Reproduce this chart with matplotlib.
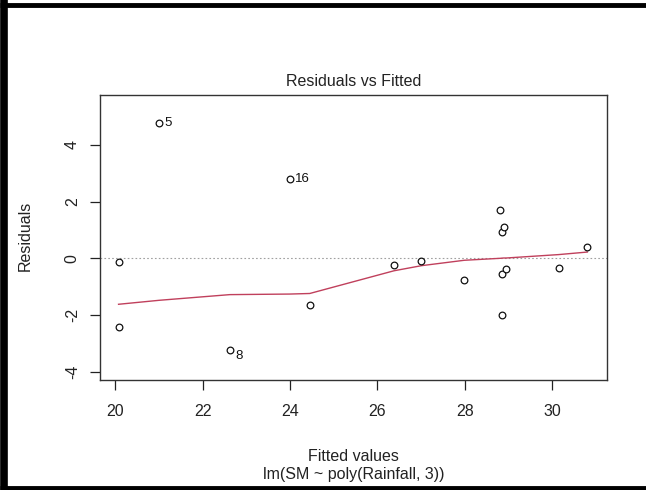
import numpy as np
import matplotlib
matplotlib.use('Agg')
import matplotlib.pyplot as plt

# fitted values / residuals
fitted = [20.07, 20.07, 21.00, 22.62, 23.99, 24.45, 26.38, 27.01, 27.99,
          28.82, 28.86, 28.86, 28.86, 28.89, 28.95, 30.15, 30.81]
resid = [-0.13, -2.42, 4.75, -3.24, 2.80, -1.63, -0.24, -0.08, -0.76,
         1.70, 0.91, -0.57, -1.99, 1.11, -0.39, -0.33, 0.39]
# smoother evaluated at sorted fitted values
smooth_x = [20.07, 21.00, 22.62, 23.99, 24.45, 26.38, 27.01, 27.99,
            28.82, 28.89, 28.95, 30.15, 30.81]
smooth_y = [-1.62, -1.48, -1.28, -1.26, -1.24, -0.44, -0.26, -0.07,
            0.00, 0.01, 0.01, 0.13, 0.22]
# labelled extreme points
id_labels = ['5', '16', '8']
id_x = [21.00, 23.99, 22.62]
id_y = [4.75, 2.80, -3.24]

xticks = [20, 22, 24, 26, 28, 30]
yticks = [-4, -2, 0, 2, 4]

plt.rcParams['font.family'] = ['Liberation Sans', 'DejaVu Sans']
plt.rcParams['axes.unicode_minus'] = False
W, H = 646, 490
fig = plt.figure(figsize=(W/100, H/100), dpi=100)

def fx(px): return px / W
def fy(py): return 1 - py / H

ax = fig.add_axes([fx(100), fy(379.5), fx(607) - fx(100), fy(94.5) - fy(379.5)])
ax.set_xlim(19.645, 31.26)
ax.set_ylim(-4.27, 5.77)

ax.axhline(0, color='#a0a0a0', lw=0.8, ls=(0, (1.5, 2)), zorder=1)
ax.plot(smooth_x, smooth_y, color='#c0405c', lw=1.0, zorder=2)
ax.plot(fitted, resid, 'o', mfc='white', mec='#111111', ms=4.8, mew=0.9, zorder=3)

for lab, x, y in zip(id_labels, id_x, id_y):
    dy = -4 if y < 0 else 0
    ax.annotate(lab, (x, y), xytext=(4, dy), textcoords='offset points',
                ha='left', va='center', fontsize=9.5, color='#111111')

for s in ax.spines.values():
    s.set_color('#333333')
    s.set_linewidth(1.0)

ax.set_xticks(xticks)
ax.set_yticks(yticks)
ax.tick_params(axis='both', length=7.5, width=0.9, color='#222222',
               labelsize=11.5, labelcolor='#222222')
ax.tick_params(axis='x', pad=10)
ax.tick_params(axis='y', pad=7, labelrotation=90)
for lbl in ax.get_yticklabels():
    lbl.set_va('center')

fig.text(fx(353.5), fy(86), 'Residuals vs Fitted', ha='center', va='baseline',
         fontsize=11.5, color='#222222')
fig.text(fx(353.5), fy(461), 'Fitted values', ha='center', va='baseline',
         fontsize=11.5, color='#222222')
fig.text(fx(353.5), fy(479), 'lm(SM ~ poly(Rainfall, 3))', ha='center', va='baseline',
         fontsize=11.5, color='#222222')
fig.text(fx(30), fy(236), 'Residuals', ha='center', va='baseline', rotation=90,
         rotation_mode='anchor', fontsize=11.5, color='#222222')

# black frame around the picture (left, top, bottom)
frame = dict(color='black', transform=fig.transFigure, clip_on=False,
             solid_capstyle='butt')
fig.add_artist(plt.Line2D([fx(4), fx(4)], [0, 1], lw=5.5, **frame))
fig.add_artist(plt.Line2D([0, 1], [fy(5), fy(5)], lw=3.5, **frame))
fig.add_artist(plt.Line2D([0, 1], [fy(488), fy(488)], lw=3.5, **frame))

fig.savefig('out.png', dpi=100)
